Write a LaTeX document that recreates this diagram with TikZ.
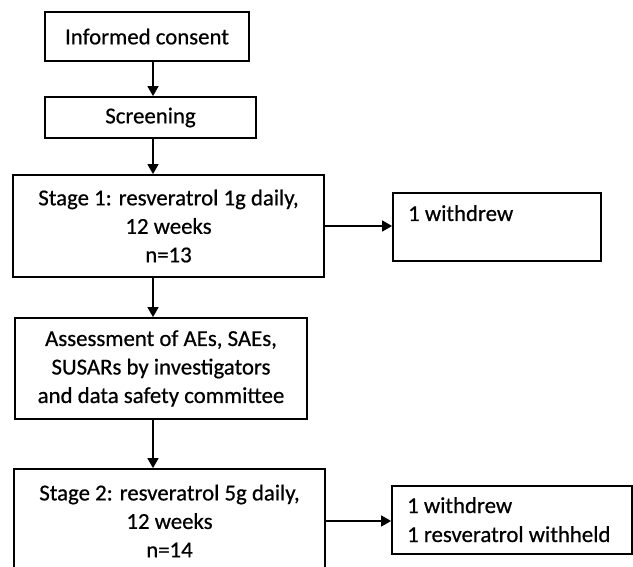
\documentclass[tikz,border=0pt]{standalone}
\usepackage{fontspec}
\setmainfont{Carlito}[FakeBold=0.6]
\usetikzlibrary{arrows.meta}
\begin{document}
\begin{tikzpicture}[x=1pt,y=-1pt,
  box/.style={draw, line width=1.8pt, rectangle, inner sep=0pt, align=center,
    font=\fontsize{22.8}{28.5}\selectfont},
  lbl/.style={anchor=base west, inner sep=0pt, font=\fontsize{22.8}{28.5}\selectfont},
  arr/.style={line width=1.6pt, -{Triangle[length=10pt,width=11pt]}}]
\useasboundingbox (0,0) rectangle (633,567);
\node[box, minimum width=204pt, minimum height=49pt] (consent) at (147,36.5) {Informed consent};
\node[box, minimum width=211pt, minimum height=41pt] (screen) at (150.5,117.5) {Screening};
\node[box, minimum width=311pt, minimum height=102pt] (stage1) at (168.5,226)
  {Stage 1: resveratrol 1g daily,\\12 weeks\\n=13};
\node[box, minimum width=208pt, minimum height=68pt] (out1) at (497,227) {};
\node[lbl] (out1t) at (408,221) {1 withdrew};
\node[box, minimum width=292pt, minimum height=101pt] (assess) at (161,368.5)
  {Assessment of AEs, SAEs,\\SUSARs by investigators\\and data safety committee};
\node[box, minimum width=311pt, minimum height=104pt] (stage2) at (169.5,521)
  {Stage 2: resveratrol 5g daily,\\12 weeks\\n=14};
\node[box, minimum width=240pt, minimum height=68pt] (out2) at (512,520) {};
\node[lbl] (out2a) at (407,513) {1 withdrew};
\node[lbl] (out2b) at (407,542) {1 resveratrol withheld};
\coordinate (spine) at (153,0);
\draw[arr] (consent.south -| spine) -- (screen.north -| spine);
\draw[arr] (screen.south -| spine) -- (stage1.north -| spine);
\draw[arr] (stage1.south -| spine) -- (assess.north -| spine);
\draw[arr] (assess.south -| spine) -- (stage2.north -| spine);
\draw[arr] (stage1.east) -- (stage1.east -| out1.west);
\draw[arr] (stage2.east) -- (stage2.east -| out2.west);
\end{tikzpicture}
\end{document}
